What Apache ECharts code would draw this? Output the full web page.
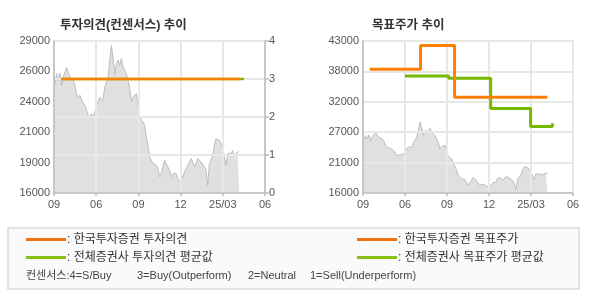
<!DOCTYPE html>
<html>
<head>
<meta charset="utf-8">
<script src="https://cdn.jsdelivr.net/npm/echarts@6/dist/echarts.min.js"></script>
<style>
html,body{margin:0;padding:0;background:#fff;}
#c{width:590px;height:300px;}
</style>
</head>
<body>
<div id="c"></div>
<script>
// ---- data ----
const xTickLabels = ['09', '06', '09', '12', '25/03', '06'];
const opinionTicks = [0, 1, 2, 3, 4];
// stock price (gray area), evenly sampled from t=0.024 to t=4.39 (axis units = tick periods)
const priceStartT = 0.024;
const priceEndT = 4.39;
const priceValues = [
  25354, 26210, 25640, 26267, 25212, 25925, 26352, 26723, 26637, 25925,
  26067, 25640, 25212, 24499, 24072, 24357, 23929, 24072, 23501, 23074,
  22646, 22446, 22789, 22446, 22931, 23501, 23786, 24214, 23872, 24072,
  25069, 25497, 25925, 27350, 28633, 28491, 26210, 27065, 27350, 26923,
  27493, 26780, 26495, 26210, 25640, 24927, 23786, 24214, 24357, 24499,
  24499, 22503, 22503, 22076, 21791, 20793, 20080, 19082, 18940, 18512,
  18654, 18369, 18084, 17372, 17657, 18226, 18797, 18654, 18226, 17942,
  17372, 17657, 17600, 17657, 17229, 16944, 16944, 17372, 17799, 18084,
  17942, 18654, 18940, 18654, 18226, 18512, 18940, 18940, 18654, 18654,
  18226, 17942, 16659, 18512, 18797, 19225, 20080, 20650, 20508, 20508,
  20223, 19795, 19795, 18369, 19367, 19367, 19367, 19652, 19225, 19225,
  19510, 19510
];
// investment opinion (consensus scale 1-4)
const kisOpinionT = [0.17, 4.41];
const kisOpinionV = [3, 3];
const avgOpinionT = [0.17, 4.50];
const avgOpinionV = [3, 3];
// target price
const kisTargetT = [0.16, 1.37, 2.18, 4.39];
const kisTargetV = [38000, 42200, 33000, 33000];
const avgTargetT = [1.00, 2.04, 3.04, 3.99, 4.51];
const avgTargetV = [36800, 36400, 31000, 27800, 28400];

// ---- build ----
const n = priceValues.length;
const priceData = priceValues.map((v, i) => [priceStartT + (priceEndT - priceStartT) * i / (n - 1), v]);
const zip = (t, v) => t.map((x, i) => [x, v[i]]);

const ORANGE = '#ff7f00';
const GREEN = '#77b800';
const FONT = '"Liberation Sans", "Noto Sans CJK KR", sans-serif';
const axisLineStyle = { color: '#bdbdbd', width: 1.5 };
const gridLine = { show: true, lineStyle: { color: '#e8e8e8', width: 2 } };
const lbl = { color: '#555', fontSize: 11, fontFamily: FONT };
const k = v => String(Math.round(v / 1000) * 1000);

function xAxis(gi) {
  return {
    type: 'value', gridIndex: gi, min: 0, max: 5, interval: 1, z: 3,
    axisLine: { show: true, lineStyle: axisLineStyle },
    axisTick: { show: true, length: 3, lineStyle: axisLineStyle },
    axisLabel: Object.assign({ margin: 6, formatter: v => xTickLabels[Math.round(v)] }, lbl),
    splitLine: gridLine
  };
}

const option = {
  animation: false,
  textStyle: { fontFamily: FONT },
  title: [
    { text: '투자의견(컨센서스) 추이', left: 55, top: 14, textStyle: { fontSize: 12.5, fontWeight: 'bold', color: '#333', fontFamily: FONT } },
    { text: '목표주가 추이', left: 367, top: 14, textStyle: { fontSize: 12.5, fontWeight: 'bold', color: '#333', fontFamily: FONT } }
  ],
  grid: [
    { left: 54, top: 41, width: 211, height: 152, show: true, borderColor: '#bdbdbd', borderWidth: 1.5, backgroundColor: 'transparent' },
    { left: 363, top: 41, width: 210, height: 152, show: true, borderColor: '#bdbdbd', borderWidth: 1.5, backgroundColor: 'transparent' }
  ],
  xAxis: [xAxis(0), xAxis(1)],
  yAxis: [
    {
      type: 'value', gridIndex: 0, min: 16000, max: 29000, interval: 2600, z: 3,
      axisLine: { show: true, lineStyle: axisLineStyle },
      axisTick: { show: false },
      axisLabel: Object.assign({ margin: 4, formatter: k }, lbl),
      splitLine: { show: false }
    },
    {
      type: 'value', gridIndex: 0, position: 'right', min: 0, max: 4, interval: 1, z: 3,
      axisLine: { show: true, lineStyle: axisLineStyle },
      axisTick: { show: true, length: 4, lineStyle: axisLineStyle },
      axisLabel: Object.assign({ margin: 4, formatter: v => String(opinionTicks[Math.round(v)]) }, lbl),
      splitLine: gridLine
    },
    {
      type: 'value', gridIndex: 1, min: 16000, max: 43000, interval: 5400, z: 3,
      axisLine: { show: true, lineStyle: axisLineStyle },
      axisTick: { show: false },
      axisLabel: Object.assign({ margin: 4, formatter: k }, lbl),
      splitLine: gridLine
    }
  ],
  series: [
    {
      type: 'line', xAxisIndex: 0, yAxisIndex: 0, data: priceData, symbol: 'none', z: 1,
      lineStyle: { color: '#bcbcbc', width: 1 }, areaStyle: { color: '#e0e0e0', opacity: 1 }
    },
    {
      type: 'line', xAxisIndex: 0, yAxisIndex: 1, data: zip(avgOpinionT, avgOpinionV), symbol: 'none', z: 5,
      lineStyle: { color: GREEN, width: 2.5 }
    },
    {
      type: 'line', xAxisIndex: 0, yAxisIndex: 1, data: zip(kisOpinionT, kisOpinionV), symbol: 'none', z: 6,
      lineStyle: { color: ORANGE, width: 2.5 }
    },
    {
      type: 'line', xAxisIndex: 1, yAxisIndex: 2, data: priceData, symbol: 'none', z: 1,
      lineStyle: { color: '#bcbcbc', width: 1 }, areaStyle: { color: '#e0e0e0', opacity: 1 }
    },
    {
      type: 'line', xAxisIndex: 1, yAxisIndex: 2, data: zip(avgTargetT, avgTargetV), step: 'end', symbol: 'none', z: 5,
      lineStyle: { color: GREEN, width: 3 }
    },
    {
      type: 'line', xAxisIndex: 1, yAxisIndex: 2, data: zip(kisTargetT, kisTargetV), step: 'end', symbol: 'none', z: 6,
      lineStyle: { color: ORANGE, width: 3 }
    }
  ],
  graphic: [
    { type: 'rect', z: 0, shape: { x: 8, y: 228, width: 571, height: 61 }, style: { fill: '#fafafa', stroke: '#e2e2e2', lineWidth: 2 } },
    { type: 'line', shape: { x1: 26, y1: 239.5, x2: 66, y2: 239.5 }, style: { stroke: '#ee7212', lineWidth: 3 } },
    { type: 'line', shape: { x1: 26, y1: 257.5, x2: 66, y2: 257.5 }, style: { stroke: '#86c014', lineWidth: 3 } },
    { type: 'line', shape: { x1: 357, y1: 239.5, x2: 397, y2: 239.5 }, style: { stroke: '#ee7212', lineWidth: 3 } },
    { type: 'line', shape: { x1: 357, y1: 257.5, x2: 397, y2: 257.5 }, style: { stroke: '#86c014', lineWidth: 3 } },
    { type: 'text', x: 67, y: 240, style: { text: ': 한국투자증권 투자의견', fill: '#333', font: '12px ' + FONT, verticalAlign: 'middle' } },
    { type: 'text', x: 67, y: 258, style: { text: ': 전체증권사 투자의견 평균값', fill: '#333', font: '12px ' + FONT, verticalAlign: 'middle' } },
    { type: 'text', x: 398, y: 240, style: { text: ': 한국투자증권 목표주가', fill: '#333', font: '12px ' + FONT, verticalAlign: 'middle' } },
    { type: 'text', x: 398, y: 258, style: { text: ': 전체증권사 목표주가 평균값', fill: '#333', font: '12px ' + FONT, verticalAlign: 'middle' } },
    { type: 'text', x: 26, y: 276, style: { text: '컨센서스:4=S/Buy', fill: '#444', font: '11px ' + FONT, verticalAlign: 'middle' } },
    { type: 'text', x: 137, y: 276, style: { text: '3=Buy(Outperform)', fill: '#444', font: '11px ' + FONT, verticalAlign: 'middle' } },
    { type: 'text', x: 248, y: 276, style: { text: '2=Neutral', fill: '#444', font: '11px ' + FONT, verticalAlign: 'middle' } },
    { type: 'text', x: 310, y: 276, style: { text: '1=Sell(Underperform)', fill: '#444', font: '11px ' + FONT, verticalAlign: 'middle' } }
  ]
};

const chart = echarts.init(document.getElementById('c'), null, { renderer: 'canvas' });
chart.setOption(option);
</script>
</body>
</html>
